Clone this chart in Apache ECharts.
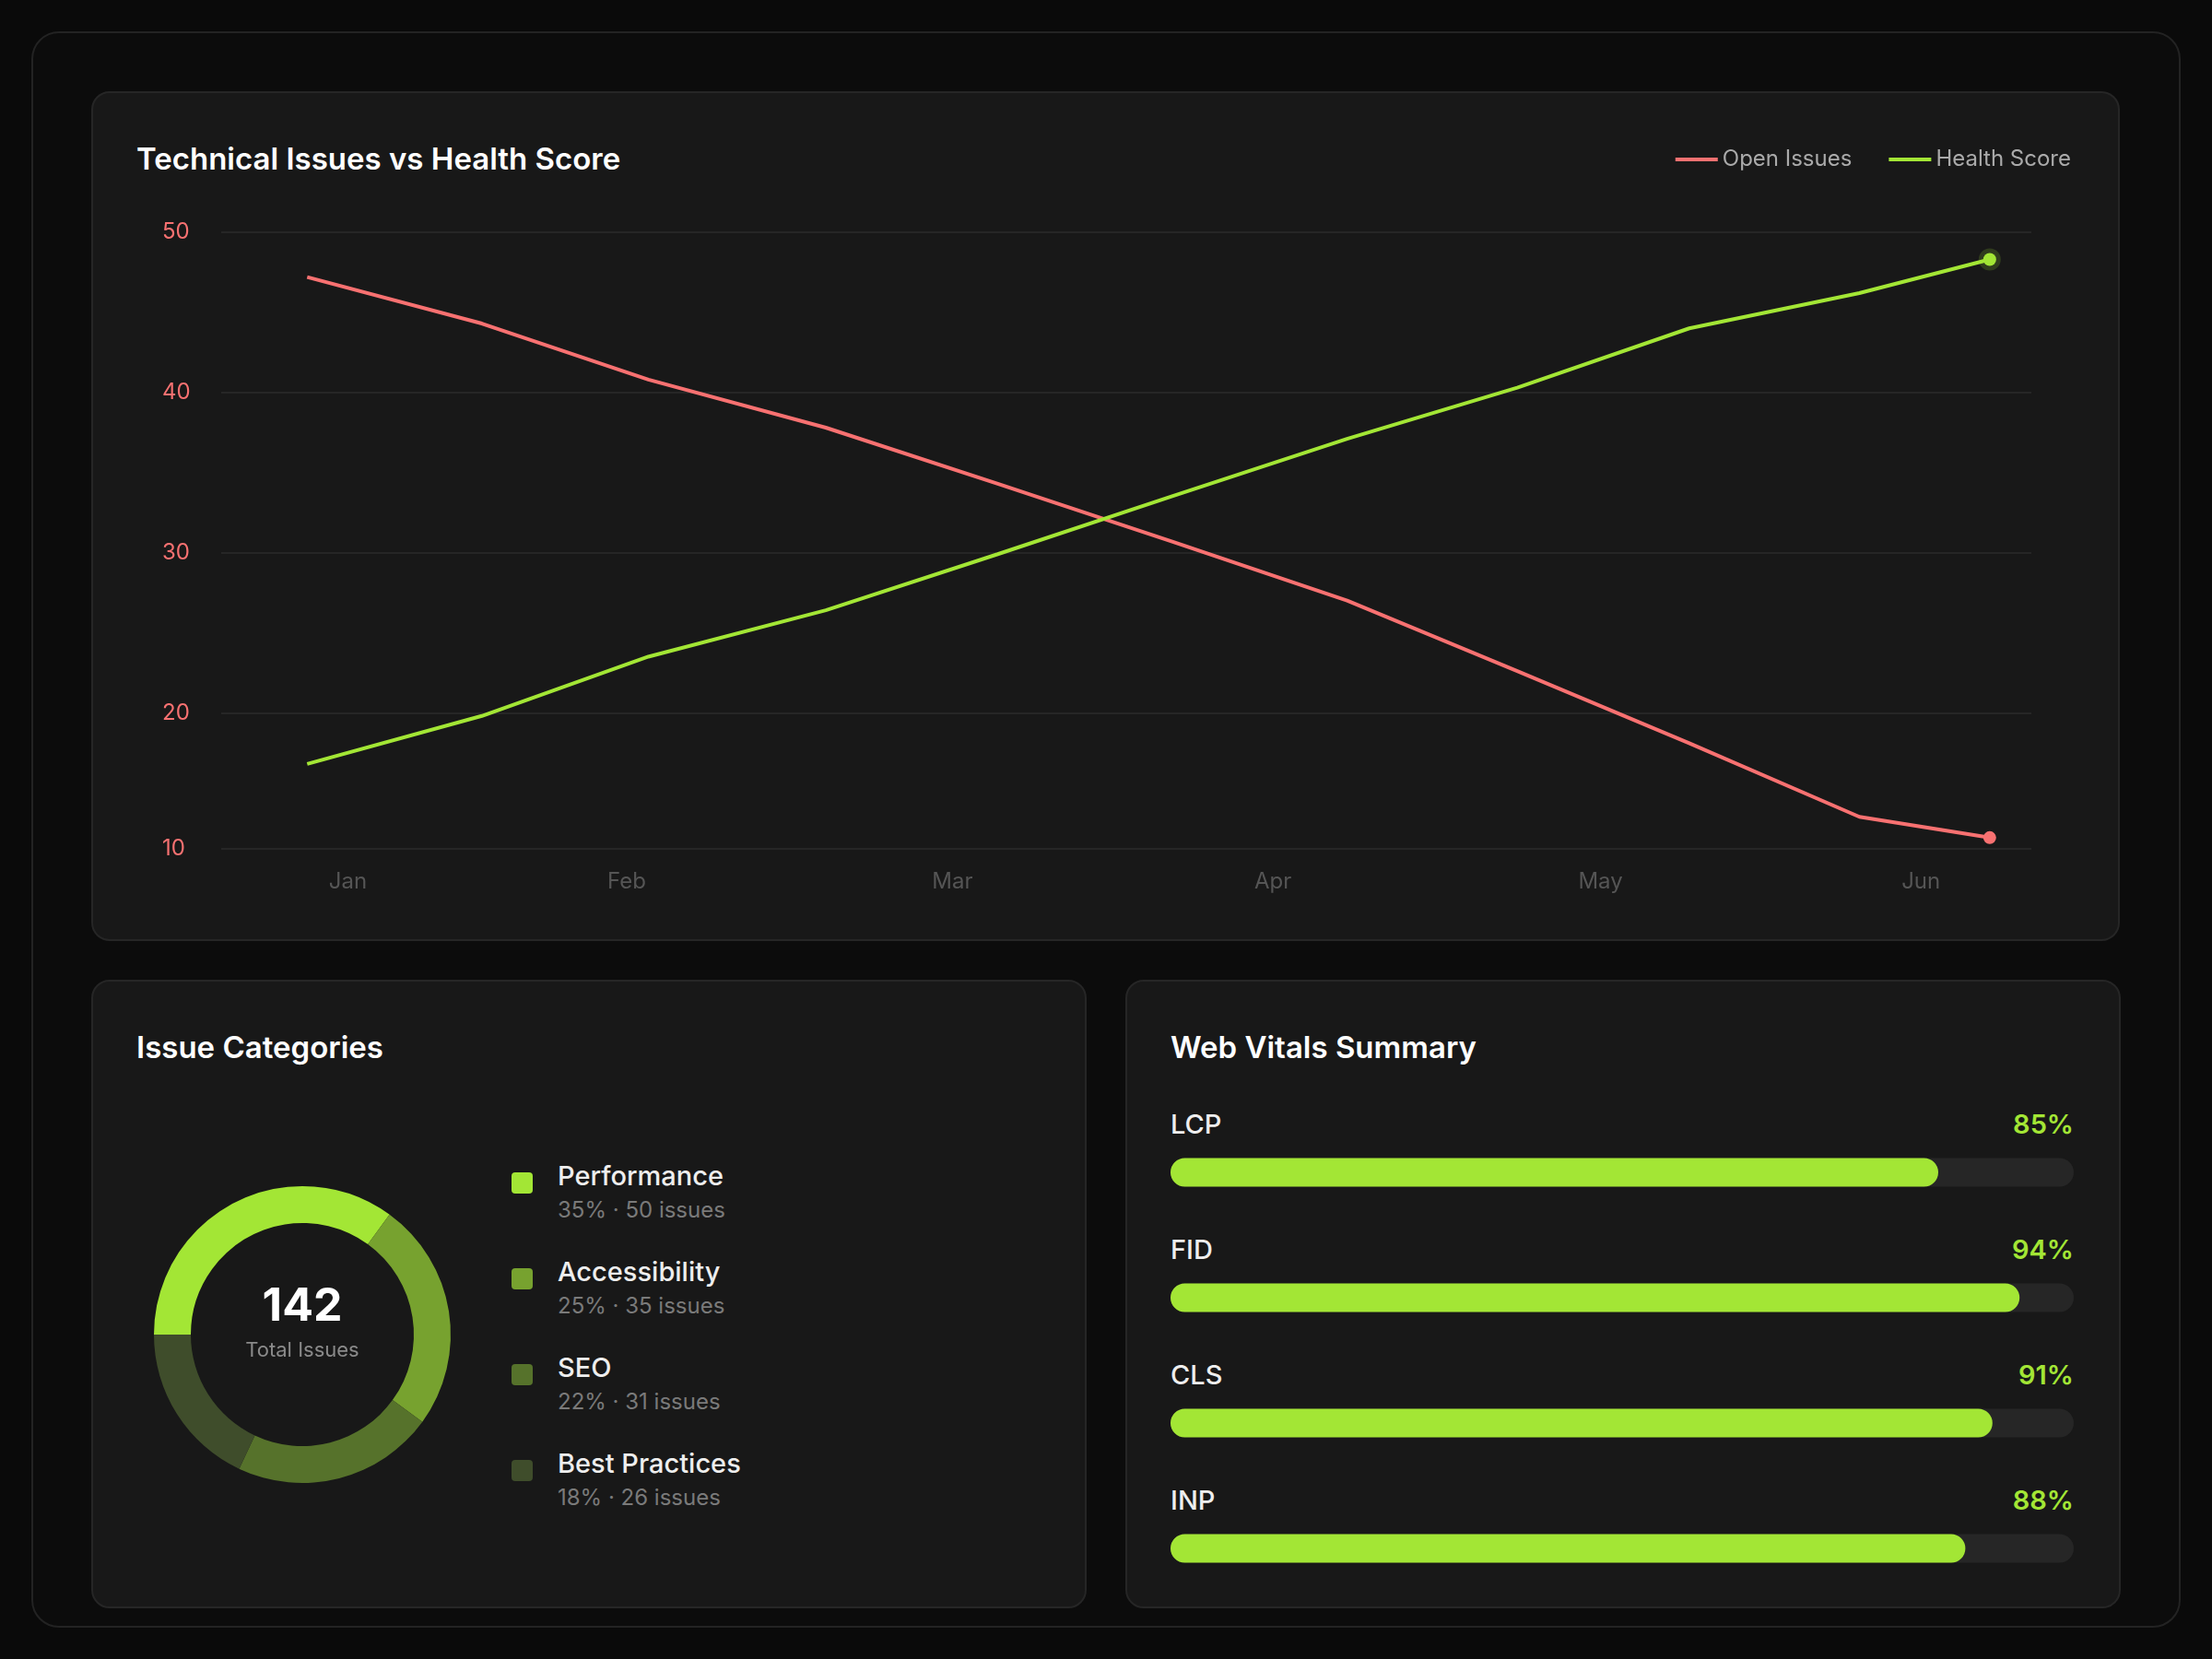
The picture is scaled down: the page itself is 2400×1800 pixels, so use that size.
<!DOCTYPE html>
<html lang="en">
<head>
<meta charset="UTF-8">
<script src="https://cdn.jsdelivr.net/npm/echarts@6/dist/echarts.min.js"></script>
<style>
    body{margin:0;background:#0a0a0a;font-family:Inter,"Noto Sans",sans-serif;}
    #page{position:relative;width:2400px;height:1800px;overflow:hidden;}
    .frame{position:absolute;left:34px;top:34px;width:2332px;height:1732px;border:2px solid #232323;border-radius:30px;background:#0c0c0c;box-sizing:border-box;}
    .panel{position:absolute;background:#181818;border:2px solid #262626;border-radius:20px;box-sizing:border-box;}
    .ttl{position:absolute;color:#fff;font-weight:600;font-size:33px;}
    .lg{position:absolute;left:555px;}
    .sq{position:absolute;left:0;top:14px;width:23px;height:23px;border-radius:4px;}
    .lg .nm{position:absolute;left:50px;top:0;color:#eee;font-size:29px;font-weight:500;white-space:nowrap;}
    .lg .sb{position:absolute;left:50px;top:40px;color:#7a7a7a;font-size:24px;white-space:nowrap;}
    .vt{position:absolute;font-size:29px;font-weight:500;}
    #chart{position:absolute;left:0;top:0;width:2400px;height:1800px;}
</style>
<title>SEO Dashboard</title>
</head>
<body>
<div id="page">
    <div class="frame"></div>
    <div class="panel" style="left:99px;top:99px;width:2201px;height:922px;"></div>
    <div class="panel" style="left:99px;top:1063px;width:1080px;height:682px;"></div>
    <div class="panel" style="left:1221px;top:1063px;width:1080px;height:682px;"></div>
    <div class="ttl" style="left:148px;top:152px;">Technical Issues vs Health Score</div>
    <div class="ttl" style="left:148px;top:1116px;">Issue Categories</div>
    <div class="ttl" style="left:1270px;top:1116px;">Web Vitals Summary</div>
    <div id="legend"></div>
    <div id="vitals"></div>
    <div id="chart"></div>
</div>
<script type="text/javascript">
    // line chart data (x = position along the period, 0..100)
    var monthLabels = ['Jan', 'Feb', 'Mar', 'Apr', 'May', 'Jun'];
    var monthPos = [7.0, 22.4, 40.4, 58.1, 76.2, 93.9];
    var pointX = [4.75, 14.4, 23.6, 33.4, 42.9, 52.5, 62.2, 71.6, 81.1, 90.5, 97.7];
    var openIssues = [47.2, 44.3, 40.8, 37.8, 34.3, 30.7, 27.0, 22.6, 18.1, 13.5, 12.2];
    var healthScore = [16.8, 19.8, 23.5, 26.4, 29.9, 33.5, 37.1, 40.3, 44.0, 46.2, 48.3];
    var yTicks = [11.5, 20, 30, 40, 50];

    // categories
    var catNames = ['Performance', 'Accessibility', 'SEO', 'Best Practices'];
    var catPct = [35, 25, 22, 18];
    var catCount = [50, 35, 31, 26];
    var catColors = ['#a3e635', '#77a22f', '#56722b', '#3f4d2b'];
    var totalIssues = 142;

    // web vitals
    var vitalNames = ['LCP', 'FID', 'CLS', 'INP'];
    var vitalScores = [85, 94, 91, 88];

    // html legend + vitals labels
    var lgHtml = '';
    for (var i = 0; i < catNames.length; i++) {
        lgHtml += '<div class="lg" style="top:' + (1258 + i * 104) + 'px;">' +
            '<div class="sq" style="background:' + catColors[i] + '"></div>' +
            '<div class="nm">' + catNames[i] + '</div>' +
            '<div class="sb">' + catPct[i] + '% · ' + catCount[i] + ' issues</div></div>';
    }
    document.getElementById('legend').innerHTML = lgHtml;
    var vHtml = '';
    for (var j = 0; j < vitalNames.length; j++) {
        var ty = 1202 + j * 136;
        vHtml += '<div class="vt" style="left:1270px;top:' + ty + 'px;color:#eee;">' + vitalNames[j] + '</div>';
        vHtml += '<div class="vt" style="right:150px;top:' + ty + 'px;color:#a3e635;font-weight:600;">' + vitalScores[j] + '%</div>';
    }
    document.getElementById('vitals').innerHTML = vHtml;

    function pairs(xs, ys, color, halo) {
        return ys.map(function (v, k) {
            if (k === ys.length - 1) {
                return {value: [xs[k], v], symbol: 'circle', symbolSize: 14,
                    itemStyle: {color: color, borderColor: halo ? 'rgba(163,230,53,0.18)' : color, borderWidth: halo ? 10 : 0}};
            }
            return {value: [xs[k], v], symbolSize: 0};
        });
    }

    var myChart = echarts.init(document.getElementById('chart'));
    var option = {
        animation: false,
        textStyle: {fontFamily: 'Inter'},
        legend: {
            right: 148, top: 156, itemWidth: 46, itemHeight: 4, itemGap: 40,
            icon: 'rect',
            textStyle: {color: '#aaa', fontSize: 24},
            data: ['Open Issues', 'Health Score']
        },
        grid: [
            {left: 240, top: 252, width: 1964, height: 669},
            {left: 1270, top: 1204, width: 980, height: 544}
        ],
        xAxis: [
            {
                type: 'value', gridIndex: 0, min: 0, max: 100,
                splitLine: {show: false}, axisLine: {show: false}, axisTick: {show: false},
                axisLabel: {customValues: monthPos, color: '#555', fontSize: 24, margin: 24,
                    formatter: function (v) { return monthLabels[monthPos.indexOf(v)]; }}
            },
            {type: 'value', gridIndex: 1, min: 0, max: 100, show: false}
        ],
        yAxis: [
            {
                type: 'value', gridIndex: 0, min: 11.5, max: 50,
                axisLine: {show: false}, axisTick: {show: false},
                splitLine: {lineStyle: {color: '#262626', width: 2}},
                axisLabel: {customValues: yTicks, color: '#f87171', fontSize: 24, margin: 64, align: 'left',
                    formatter: function (v) { return Math.floor(v / 10) * 10; }}
            },
            {type: 'category', gridIndex: 1, inverse: true, data: vitalNames, show: false}
        ],
        series: [
            {
                name: 'Open Issues', type: 'line', xAxisIndex: 0, yAxisIndex: 0,
                color: '#f87171', lineStyle: {width: 4},
                data: pairs(pointX, openIssues, '#f87171', false)
            },
            {
                name: 'Health Score', type: 'line', xAxisIndex: 0, yAxisIndex: 0,
                color: '#a3e635', lineStyle: {width: 4},
                data: pairs(pointX, healthScore, '#a3e635', true)
            },
            {
                type: 'pie', center: [328, 1448], radius: [121, 161],
                startAngle: 180, clockwise: true, label: {show: false},
                emphasis: {disabled: true},
                data: catNames.map(function (n, k) {
                    return {name: n, value: catPct[k], itemStyle: {color: catColors[k]}};
                })
            },
            {
                type: 'bar', xAxisIndex: 1, yAxisIndex: 1, barWidth: 31,
                data: vitalScores,
                itemStyle: {color: '#a3e635', borderRadius: 16},
                showBackground: true,
                backgroundStyle: {color: '#262626', borderRadius: 16}
            }
        ],
        graphic: [
            {type: 'text', left: 'center', x: 0, style: {text: String(totalIssues), x: 328, y: 1418, align: 'center', verticalAlign: 'middle',
                fill: '#fff', fontSize: 50, fontWeight: 'bold', fontFamily: 'Inter'}},
            {type: 'text', style: {text: 'Total Issues', x: 328, y: 1465, align: 'center', verticalAlign: 'middle',
                fill: '#8a8a8a', fontSize: 22, fontFamily: 'Inter'}}
        ]
    };
    option.graphic[0] = {type: 'text', style: option.graphic[0].style};
    myChart.setOption(option);
</script>
</body>
</html>
